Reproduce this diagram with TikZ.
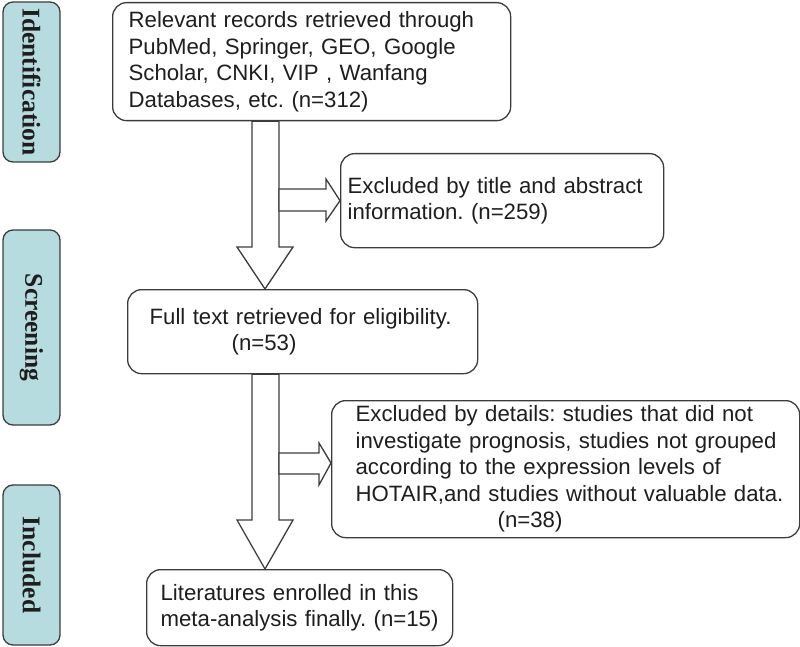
\documentclass[tikz,border=0pt]{standalone}
\usepackage{fontspec}
\setmainfont{Liberation Sans}
\newfontfamily\serifb{Liberation Serif}
\frenchspacing
\begin{document}
\begin{tikzpicture}[x=1pt,y=-1pt]
\definecolor{linec}{HTML}{3C3C3C}
\definecolor{sidefill}{HTML}{B6DCE0}
\definecolor{txtc}{HTML}{1E1E1E}
\tikzset{
  box/.style={draw=linec, line width=1.3pt, rounded corners=14pt, fill=white,
    anchor=north west, align=left, inner ysep=0pt, text=txtc,
    font=\fontsize{22.2}{26.5}\selectfont},
  sidebox/.style={draw=linec, line width=1.3pt, rounded corners=10pt, fill=sidefill,
    rotate=-90, minimum height=57pt, inner sep=0pt, text=txtc,
    font=\serifb\bfseries\fontsize{25.5}{28}\selectfont},
  blockarrow/.style={draw=linec, line width=1.3pt, fill=white, line join=miter}
}
\useasboundingbox (0,0) rectangle (800,647);
% side labels
\node[sidebox, minimum width=160pt] (sid) at (31.5,82) {Identification};
\node[sidebox, minimum width=195pt] (ssc) at (31.5,327.5) {Screening};
\node[sidebox, minimum width=160pt] (sin) at (31.5,565) {Included};
% boxes
\node[box, inner xsep=16pt, text width=366pt, minimum width=398pt, minimum height=118pt] (b1) at (112,2)
  {\mbox{Relevant records retrieved through}\\PubMed, Springer, GEO, Google\\Scholar, CNKI, VIP , Wanfang\\Databases, etc. (n=312)};
\node[box, inner xsep=7pt, text width=309pt, minimum width=323pt, minimum height=94pt] (b2) at (340,153)
  {\mbox{Excluded by title and abstract}\\information. (n=259)};
\node[box, inner xsep=22pt, text width=306pt, minimum width=350pt, minimum height=84pt] (b3) at (127,289)
  {\mbox{Full text retrieved for eligibility.}\\\hspace*{82pt}(n=53)};
\node[box, inner xsep=24pt, text width=420pt, minimum width=468pt, minimum height=137pt] (b4) at (331,400)
  {\mbox{Excluded by details: studies that did not}\\\mbox{investigate prognosis, studies not grouped}\\\mbox{according to the expression levels of}\\\mbox{HOTAIR,and studies without valuable data.}\\\hspace*{142pt}(n=38)};
\node[box, inner xsep=14pt, text width=278pt, minimum width=306pt, minimum height=76pt] (b5) at (146,569)
  {\mbox{Literatures enrolled in this}\\\mbox{meta-analysis finally. (n=15)}};
% helper coordinates
\coordinate (sl) at (252,0);
\coordinate (sr) at (279,0);
\coordinate (ax) at (265,0);
\coordinate (t2) at (0,463);
% main block arrows
\draw[blockarrow] (sl |- b1.south) -- (252,247) -- (237,247) -- (ax |- b3.north)
  -- (293,247) -- (279,247) -- (sr |- b1.south) -- cycle;
\draw[blockarrow] (sl |- b3.south) -- (252,520) -- (237,520) -- (ax |- b5.north)
  -- (293,520) -- (279,520) -- (sr |- b3.south) -- cycle;
% side block arrows
\draw[blockarrow] (279,189) -- (326,189) -- (326,179) -- (b2.west)
  -- (326,221) -- (326,211) -- (279,211) -- cycle;
\draw[blockarrow] (279,453) -- (319,453) -- (319,443) -- (t2 -| b4.west)
  -- (319,485) -- (319,474) -- (279,474) -- cycle;
\end{tikzpicture}
\end{document}
